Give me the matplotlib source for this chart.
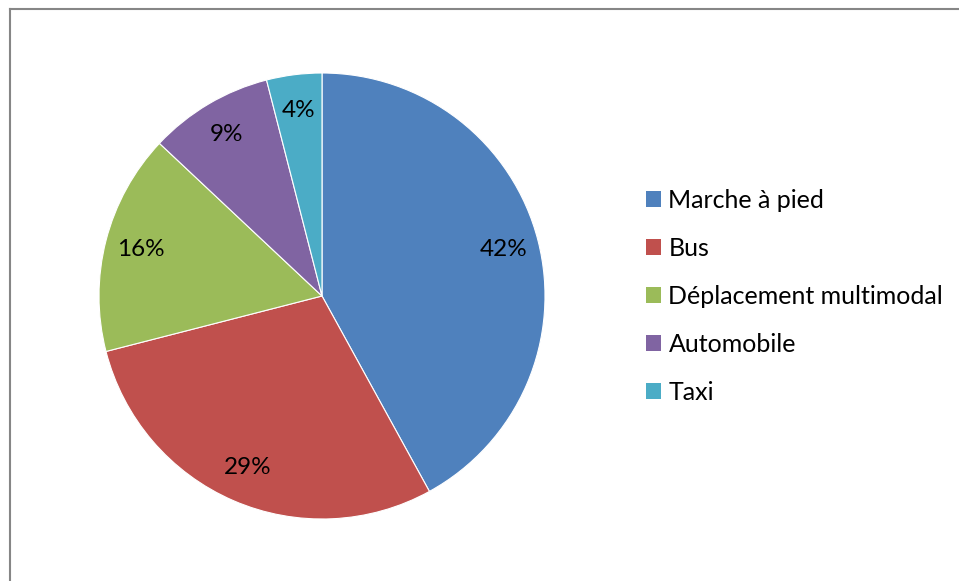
import matplotlib
matplotlib.use("Agg")
import matplotlib.pyplot as plt
from matplotlib.patches import Patch
from matplotlib.lines import Line2D

categories = ["Marche à pied", "Bus", "Déplacement multimodal", "Automobile", "Taxi"]
shares = [42, 29, 16, 9, 4]
colors = ["#4F81BD", "#C0504D", "#9BBB59", "#8064A2", "#4BACC6"]

W, H = 959, 581
plt.rcParams["font.family"] = ["Lato", "DejaVu Sans"]

fig = plt.figure(figsize=(W / 100, H / 100), dpi=100)
ax = fig.add_axes([0, 0, 1, 1])

cx, cy, r = 322, H - 296, 223
wedges, texts, autotexts = ax.pie(
    shares, colors=colors, startangle=90, counterclock=False,
    center=(cx, cy), radius=r, autopct="%d%%", pctdistance=0.84,
    wedgeprops=dict(edgecolor="white", linewidth=0.8),
    textprops=dict(fontsize=17.5, color="black"), frame=True,
)
ax.set_xlim(0, W)
ax.set_ylim(0, H)
ax.set_aspect("equal")
ax.axis("off")

# chart frame
fig.add_artist(Line2D([9.5 / W, 1.0], [1 - 8.5 / H, 1 - 8.5 / H], transform=fig.transFigure,
                      color="#868686", linewidth=1.5))
fig.add_artist(Line2D([9.5 / W, 9.5 / W], [0, 1 - 8.5 / H], transform=fig.transFigure,
                      color="#868686", linewidth=1.5))

handles = [Patch(facecolor=c, edgecolor="none") for c in colors]
fig.legend(handles, categories, loc="upper left",
           bbox_to_anchor=(646 / W, 1 - 189 / H), frameon=False,
           fontsize=18, handlelength=0.6, handleheight=0.6,
           handletextpad=0.3, labelspacing=1.0, borderpad=0, borderaxespad=0)

fig.savefig("out.png", dpi=100, facecolor="white")
